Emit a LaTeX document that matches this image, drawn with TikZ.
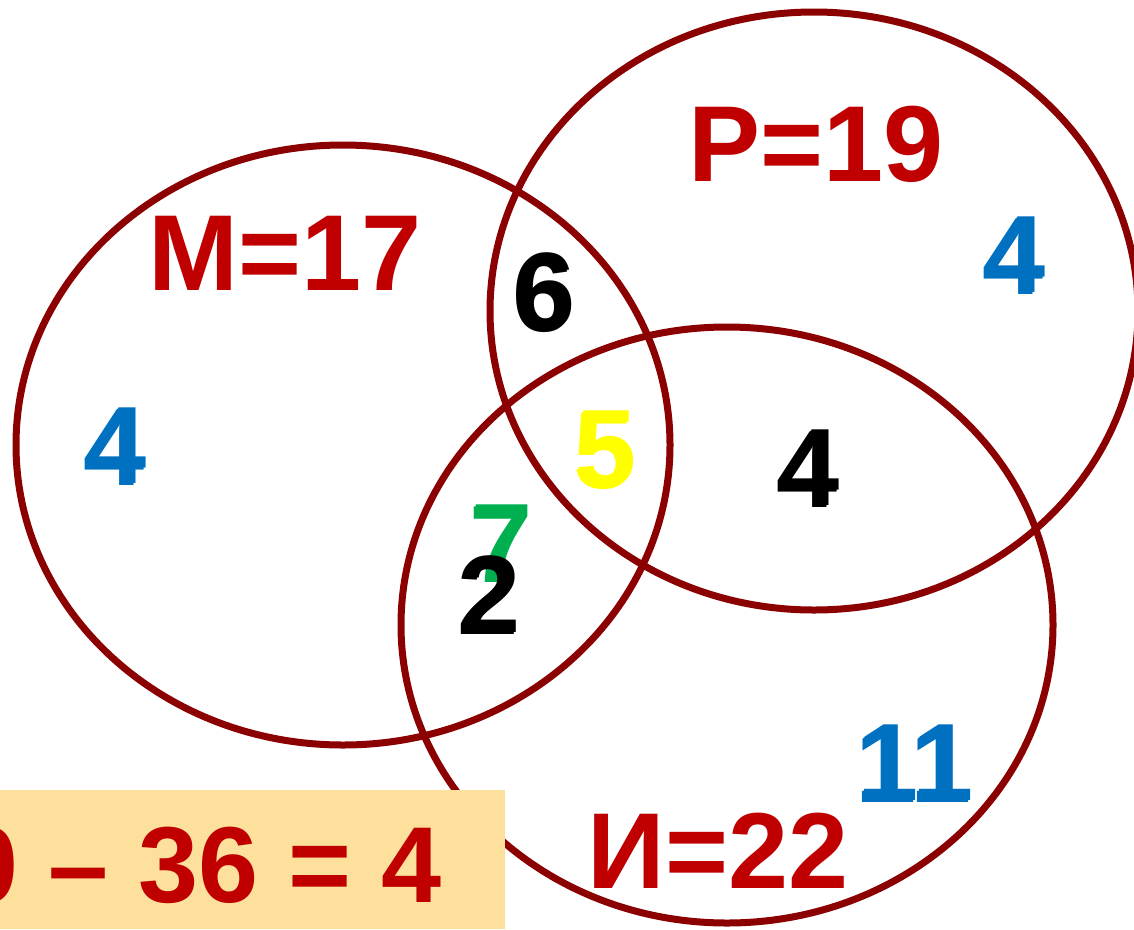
\documentclass[tikz,border=0pt]{standalone}
\usepackage{fontspec}
\setmainfont{Liberation Sans}
\definecolor{ring}{RGB}{139,0,0}
\definecolor{lbl}{RGB}{192,0,0}
\definecolor{nblue}{RGB}{0,112,192}
\definecolor{ngreen}{RGB}{0,176,80}
\definecolor{nyellow}{RGB}{255,255,0}
\definecolor{boxfill}{RGB}{253,224,156}
\tikzset{
  ringline/.style={draw=ring, line width=7pt},
  lab/.style={inner sep=0pt, anchor=base, text=lbl, font=\fontsize{108}{110}\bfseries\selectfont},
  num/.style={inner sep=0pt, anchor=base, font=\fontsize{110}{112}\bfseries\selectfont},
}
\newcommand{\shnum}[4]{% name, x, y, colour+text
  \node[num, text=#4] at (#2-2,#3+2) {\csname numtext#1\endcsname};
  \node[num, text=#4] (#1) at (#2,#3) {\csname numtext#1\endcsname};
}
\begin{document}
\begin{tikzpicture}[x=1pt,y=-1pt]
\useasboundingbox (0,0) rectangle (1134,929);
\clip (0,0) rectangle (1134,929);
% circles
\draw[ringline] (343,445) ellipse [x radius=327, y radius=300];
\draw[ringline] (814,311) ellipse [x radius=324, y radius=299];
\draw[ringline] (727,625) ellipse [x radius=326, y radius=298];
% bottom box
\node[fill=boxfill, inner sep=0pt, minimum width=505pt, minimum height=139pt, anchor=north west] (box) at (0,790) {};
\node[inner sep=0pt, anchor=base east, text=lbl, font=\fontsize{108}{110}\bfseries\selectfont] (calc) at (442,902) {40 – 36 = 4};
% set labels
\node[lab] (M) at (285,290) {М=17};
\node[lab] (P) at (816,181) {Р=19};
\node[lab] (I) at (718,888) {И=22};
% region numbers
\def\numtextmonly{4}\def\numtextponly{4}\def\numtextionly{11}
\def\numtextmp{6}\def\numtextmpi{5}\def\numtextmig{7}\def\numtextmi{2}\def\numtextpi{4}
\shnum{monly}{116}{483}{nblue}
\shnum{ponly}{1015}{292}{nblue}
\shnum{ionly}{916}{800}{nblue}
\shnum{mp}{545}{329}{black}
\shnum{mpi}{606}{486}{nyellow}
\shnum{mig}{502}{580}{ngreen}
\shnum{mi}{490}{632}{black}
\shnum{pi}{809}{505}{black}
\end{tikzpicture}
\end{document}
